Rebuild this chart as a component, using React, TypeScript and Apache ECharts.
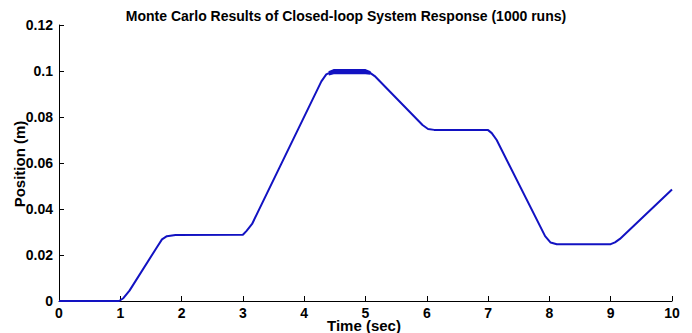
import React, { useEffect, useRef } from "react";
import * as echarts from "echarts";

// Closed-loop position response (nominal run), time in seconds, position in metres
const timeSec = [
  0, 0.98, 1.05, 1.15, 1.6, 1.68, 1.76, 1.9, 3.0, 3.06, 3.15, 4.28, 4.36, 4.45,
  5.0, 5.07, 5.15, 5.93, 6.02, 6.12, 7.0, 7.06, 7.14, 7.93, 8.02, 8.12, 9.0,
  9.07, 9.15, 10.0,
];
const positionM = [
  0, 0, 0.0012, 0.0045, 0.0235, 0.0268, 0.0282, 0.0287, 0.0288, 0.0305, 0.0335,
  0.0955, 0.0985, 0.0996, 0.0997, 0.0993, 0.0978, 0.0765, 0.0748, 0.0744,
  0.0743, 0.073, 0.07, 0.0282, 0.0254, 0.0247, 0.0247, 0.0255, 0.027, 0.0485,
];

// Spread of the Monte Carlo runs on the 0.1 m hold
const spreadTime = [4.4, 4.48, 5.0, 5.08];
const spreadUpper = [0.0995, 0.1004, 0.1004, 0.0995];
const spreadLower = [0.0985, 0.099, 0.099, 0.0988];

const xTicks = { min: 0, max: 10, step: 1 };
const yTicks = { min: 0, max: 0.12, step: 0.02 };

const TITLE = "Monte Carlo Results of Closed-loop System Response (1000 runs)";
const X_NAME = "Time (sec)";
const Y_NAME = "Position (m)";

const FONT = 'Arial, "Liberation Sans", Helvetica, sans-serif';
const LINE_COLOR = "#1212c2";

const pairs = (xs: number[], ys: number[]) => xs.map((x, i) => [x, ys[i]]);

export default function App() {
  const ref = useRef<HTMLDivElement>(null);

  useEffect(() => {
    if (!ref.current) return;
    const chart = echarts.init(ref.current, undefined, { renderer: "svg" });
    const axisCommon = {
      axisLine: { show: true, lineStyle: { color: "#000", width: 1 } },
      axisTick: { show: true, inside: true, length: 5, lineStyle: { color: "#000" } },
      splitLine: { show: false },
      axisLabel: {
        color: "#000",
        fontFamily: FONT,
        fontWeight: "bold" as const,
        fontSize: 14,
      },
    };
    const lineSeries = (data: number[][], width: number) => ({
      type: "line" as const,
      data,
      showSymbol: false,
      symbol: "none",
      lineStyle: { color: LINE_COLOR, width },
      z: 3,
    });
    const nameStyle = {
      font: `bold 15px ${FONT}`,
      fill: "#000",
      align: "center",
      verticalAlign: "middle",
    };
    chart.setOption({
      animation: false,
      backgroundColor: "#fff",
      title: {
        text: TITLE,
        left: "center",
        top: 4,
        textStyle: {
          color: "#000",
          fontFamily: FONT,
          fontWeight: "bold",
          fontSize: 14,
        },
      },
      grid: {
        left: 59,
        right: 20,
        top: 25,
        bottom: 32,
        containLabel: false,
        outerBoundsMode: "none",
      },
      xAxis: {
        type: "value",
        min: xTicks.min,
        max: xTicks.max,
        interval: xTicks.step,
        ...axisCommon,
        axisLabel: { ...axisCommon.axisLabel, margin: 5 },
      },
      yAxis: {
        type: "value",
        min: yTicks.min,
        max: yTicks.max,
        interval: yTicks.step,
        ...axisCommon,
        axisLabel: {
          ...axisCommon.axisLabel,
          margin: 6,
          formatter: (v: number) => String(parseFloat(v.toFixed(2))),
        },
      },
      graphic: [
        {
          type: "text",
          x: 364,
          y: 325,
          z: 10,
          style: { ...nameStyle, text: X_NAME },
        },
        {
          type: "text",
          x: 19,
          y: 164,
          rotation: Math.PI / 2,
          z: 10,
          style: { ...nameStyle, text: Y_NAME },
        },
      ],
      series: [
        lineSeries(pairs(timeSec, positionM), 2),
        lineSeries(pairs(spreadTime, spreadUpper), 2),
        lineSeries(pairs(spreadTime, spreadLower), 2),
      ],
    });
    return () => chart.dispose();
  }, []);

  return (
    <div
      ref={ref}
      style={{ position: "fixed", left: 0, top: 0, width: 692, height: 333, background: "#fff" }}
    />
  );
}
